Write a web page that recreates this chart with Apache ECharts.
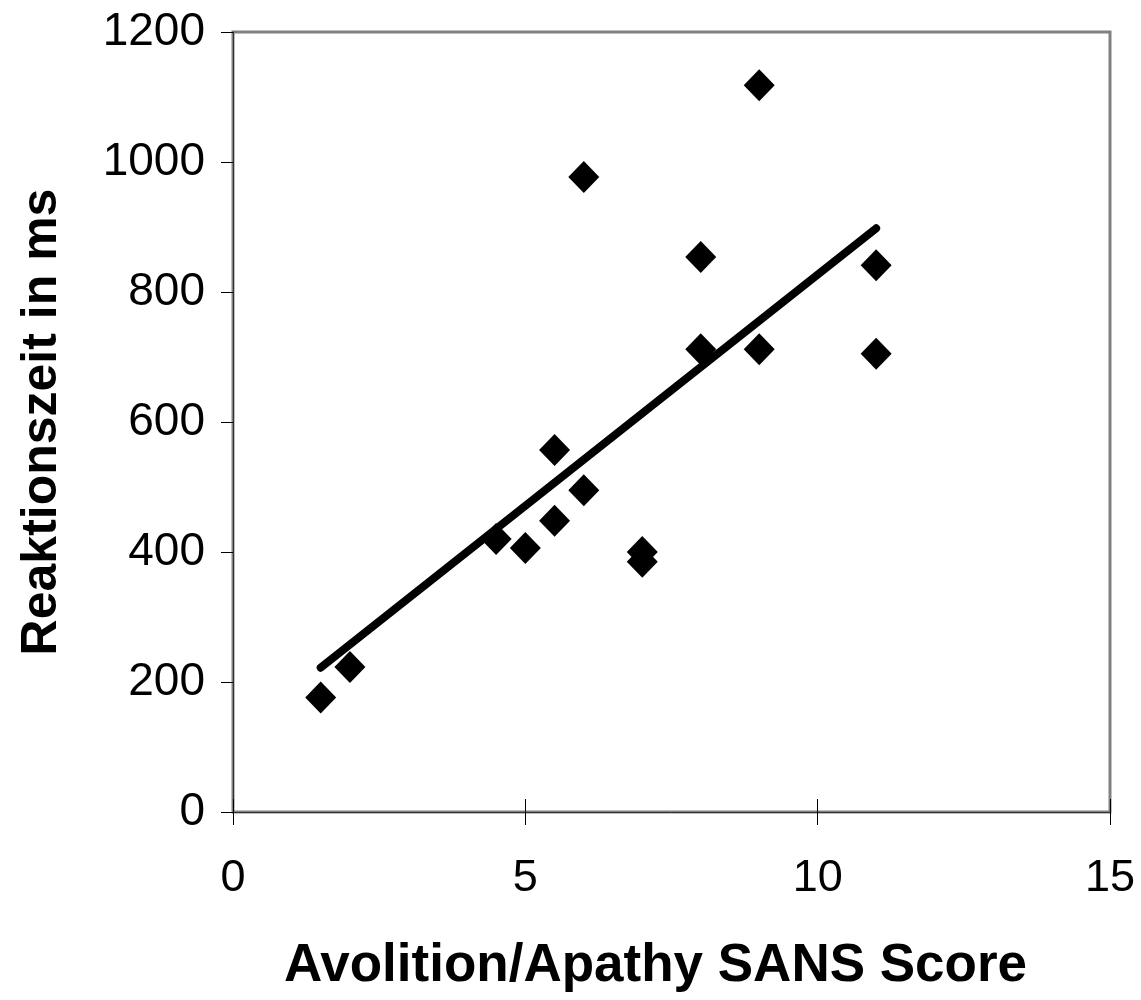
<!DOCTYPE html>
<html>
<head>
<meta charset="utf-8">
<title>Reaktionszeit vs Avolition/Apathy</title>
<script src="https://cdn.jsdelivr.net/npm/echarts@6/dist/echarts.min.js"></script>
<style>
  html, body { margin: 0; padding: 0; background: #fff; }
  #chart { width: 1141px; height: 1000px; }
</style>
</head>
<body>
<div id="chart"></div>
<script>
// data
const sansScore = [1.5, 2, 4.5, 5, 5.5, 5.5, 6, 6, 7, 7, 8, 8, 9, 9, 11, 11]
const reactionMs = [176, 223, 420, 406, 557, 448, 977, 495, 400, 385, 854, 712, 1118, 712, 841, 705]
// trend line end points
const trendX = [1.5, 11]
const trendY = [222, 898]
// axis ranges
const xRange = [0, 15, 5]
const yRange = [0, 1200, 200]

const font = '"Liberation Sans", Arial, sans-serif'

const myChart = echarts.init(document.getElementById('chart'))

let options = {
  backgroundColor: '#fff',
  animation: false,
  grid: {
    left: 233,
    right: 31,
    top: 32,
    bottom: 188,
    show: true,
    borderColor: '#808080',
    borderWidth: 3
  },
  xAxis: [
    {
      type: 'value',
      min: xRange[0],
      max: xRange[1],
      interval: xRange[2],
      name: 'Avolition/Apathy SANS Score',
      nameLocation: 'middle',
      nameGap: 128,
      nameTextStyle: {
        fontFamily: font, fontWeight: 'bold', fontSize: 53, color: '#000',
        padding: [0, 32, 0, 0]
      },
      axisLine: { onZero: false, lineStyle: { color: '#333', width: 1 } },
      axisTick: { length: 13, lineStyle: { color: '#000', width: 1 } },
      axisLabel: { margin: 44, fontFamily: font, fontSize: 45, color: '#000' },
      splitLine: { show: false }
    },
    {
      // second copy of the x ticks, pointing up into the plot
      type: 'value',
      position: 'top',
      min: xRange[0],
      max: xRange[1],
      interval: xRange[2],
      axisLine: { show: false, onZero: true },
      axisTick: { length: 13, lineStyle: { color: '#000', width: 1 } },
      axisLabel: { show: false },
      splitLine: { show: false }
    }
  ],
  yAxis: {
    type: 'value',
    min: yRange[0],
    max: yRange[1],
    interval: yRange[2],
    name: 'Reaktionszeit in ms',
    nameLocation: 'middle',
    nameGap: 166,
    nameTextStyle: { fontFamily: font, fontWeight: 'bold', fontSize: 50, color: '#000' },
    axisLine: { lineStyle: { color: '#333', width: 1 } },
    axisTick: { length: 12, lineStyle: { color: '#000', width: 1 } },
    axisLabel: {
      margin: 28, fontFamily: font, fontSize: 46, color: '#000',
      formatter: (v) => String(v)
    },
    splitLine: { show: false }
  },
  series: [
    {
      type: 'scatter',
      symbol: 'diamond',
      symbolSize: [31, 32],
      itemStyle: { color: '#000', opacity: 1 },
      data: sansScore.map((x, i) => [x, reactionMs[i]])
    },
    {
      type: 'line',
      showSymbol: false,
      symbol: 'none',
      lineStyle: { color: '#000', width: 8, cap: 'round' },
      data: trendX.map((x, i) => [x, trendY[i]])
    }
  ]
}
myChart.setOption(options)
</script>
</body>
</html>
